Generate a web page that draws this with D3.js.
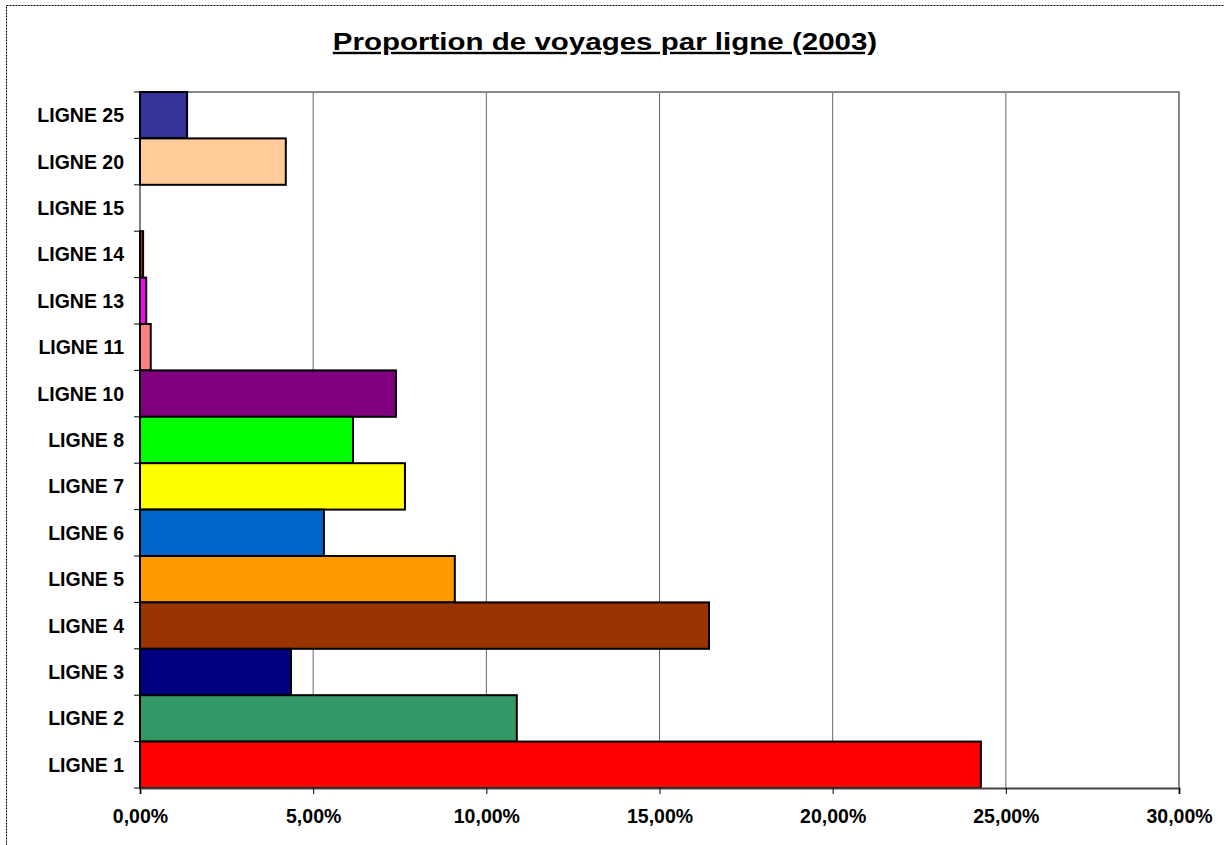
<!DOCTYPE html>
<html>
<head>
<meta charset="utf-8">
<script src="https://cdn.jsdelivr.net/npm/d3@7"></script>
<style>
  body { margin: 0; background: #fff; }
  svg { display: block; font-family: "Liberation Sans", Arial, sans-serif; }
</style>
</head>
<body>
<svg width="1224" height="845"></svg>
<script>
// data (top to bottom)
var lignes = ["LIGNE 25", "LIGNE 20", "LIGNE 15", "LIGNE 14", "LIGNE 13", "LIGNE 11", "LIGNE 10",
    "LIGNE 8", "LIGNE 7", "LIGNE 6", "LIGNE 5", "LIGNE 4", "LIGNE 3", "LIGNE 2", "LIGNE 1"];
var parts = [1.36, 4.21, 0, 0.09, 0.18, 0.31, 7.39, 6.15, 7.65, 5.31, 9.09, 16.43, 4.36, 10.88, 24.28];
var couleurs = ["#333399", "#FFCC99", "#FFFFFF", "#993300", "#FF00FF", "#FF8080", "#800080",
    "#00FF00", "#FFFF00", "#0066CC", "#FF9900", "#993300", "#000080", "#339966", "#FF0000"];
var ticks = [0, 5, 10, 15, 20, 25, 30];
var titre = "Proportion de voyages par ligne (2003)";

var svg = d3.select("svg"),
    width = +svg.attr("width"),
    height = +svg.attr("height");

var margin = {top: 92, right: 45, bottom: 57, left: 140};
var x = d3.scaleLinear().domain([0, 30]).range([margin.left, width - margin.right]);
var y = d3.scaleBand().domain(lignes).range([margin.top, height - margin.bottom]).padding(0);

// dotted outer frame
svg.append("rect")
    .attr("x", 6.5).attr("y", 5.5)
    .attr("width", width + 20).attr("height", height + 20)
    .attr("fill", "none")
    .attr("stroke", "#000")
    .attr("stroke-dasharray", "2,1");

// title
svg.append("text")
    .attr("x", 0).attr("y", 0)
    .attr("text-anchor", "middle")
    .attr("font-size", 24)
    .attr("font-weight", "bold")
    .attr("text-decoration", "underline")
    .attr("transform", "translate(605,50) scale(1.23,1)")
    .text(titre);

// grid
svg.append("g")
    .selectAll("line")
    .data(ticks.slice(1, -1))
    .enter().append("line")
    .attr("x1", function (d) { return x(d); })
    .attr("x2", function (d) { return x(d); })
    .attr("y1", margin.top)
    .attr("y2", height - margin.bottom)
    .attr("stroke", "#666")
    .attr("stroke-width", 1);

// plot border top + right
svg.append("path")
    .attr("d", "M" + x(0) + "," + margin.top + "H" + x(30) + "V" + (height - margin.bottom))
    .attr("fill", "none")
    .attr("stroke", "#888")
    .attr("stroke-width", 2);

// bars
svg.append("g")
    .selectAll("rect")
    .data(lignes)
    .enter().filter(function (d, i) { return parts[i] > 0; })
    .append("rect")
    .attr("x", x(0))
    .attr("y", function (d) { return y(d); })
    .attr("width", function (d) { return x(parts[lignes.indexOf(d)]) - x(0); })
    .attr("height", y.bandwidth())
    .attr("fill", function (d) { return couleurs[lignes.indexOf(d)]; })
    .attr("stroke", "#000")
    .attr("stroke-width", 2);

// y axis
var yAxis = svg.append("g")
    .attr("transform", "translate(" + x(0) + ",0)");
yAxis.append("line")
    .attr("x1", 0).attr("x2", 0)
    .attr("y1", margin.top).attr("y2", height - margin.bottom)
    .attr("stroke", "#000");
yAxis.selectAll(".tk")
    .data(lignes.concat(["end"]))
    .enter().append("line")
    .attr("x1", -6).attr("x2", 0)
    .attr("y1", function (d, i) { return i < lignes.length ? y(d) : y.range()[1]; })
    .attr("y2", function (d, i) { return i < lignes.length ? y(d) : y.range()[1]; })
    .attr("stroke", "#000");
yAxis.selectAll("text")
    .data(lignes)
    .enter().append("text")
    .attr("x", -16)
    .attr("y", function (d) { return y(d) + y.bandwidth() / 2; })
    .attr("dy", "0.36em")
    .attr("text-anchor", "end")
    .attr("font-size", 19.5)
    .attr("font-weight", "bold")
    .text(function (d) { return d; });

// x axis
var xAxis = svg.append("g")
    .attr("transform", "translate(0," + (height - margin.bottom) + ")")
    .call(d3.axisBottom(x).tickValues(ticks).tickSize(6)
        .tickFormat(function (d) { return d3.format(".2f")(d).replace(".", ",") + "%"; }));
xAxis.select(".domain").attr("stroke", "#444").attr("stroke-width", 2);
xAxis.selectAll(".tick line").attr("stroke", "#000");
xAxis.selectAll(".tick text")
    .attr("font-family", "Liberation Sans, Arial, sans-serif")
    .attr("font-size", 19.5)
    .attr("font-weight", "bold")
    .attr("fill", "#000")
    .attr("y", 21);
</script>
</body>
</html>
